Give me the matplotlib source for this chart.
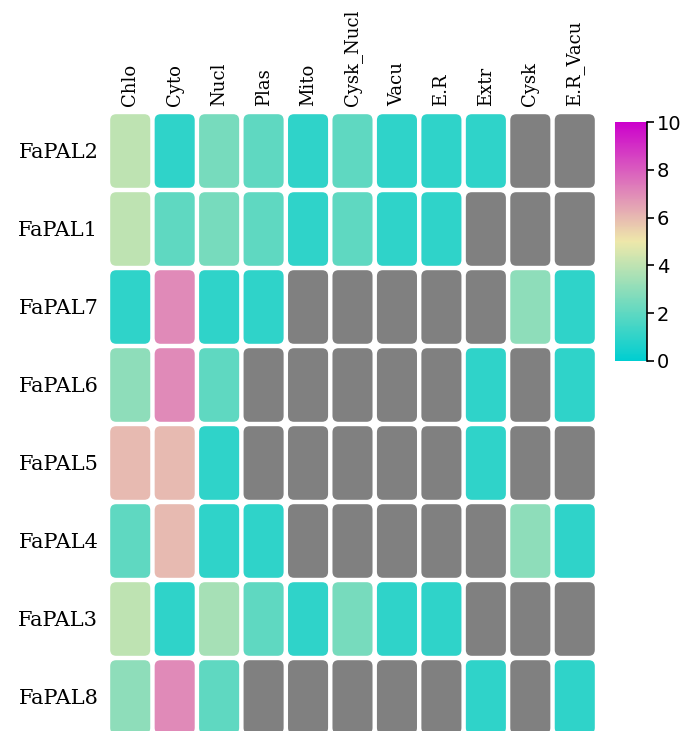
import numpy as np
import matplotlib
matplotlib.use("Agg")
import matplotlib.pyplot as plt
from matplotlib.colors import LinearSegmentedColormap, Normalize
from matplotlib.patches import FancyBboxPatch
from matplotlib.cm import ScalarMappable

nan = np.nan
locations = ["Chlo", "Cyto", "Nucl", "Plas", "Mito", "Cysk_Nucl", "Vacu", "E.R", "Extr", "Cysk", "E.R_Vacu"]
genes = ["FaPAL2", "FaPAL1", "FaPAL7", "FaPAL6", "FaPAL5", "FaPAL4", "FaPAL3", "FaPAL8"]

FaPAL2 = [4, 1, 2.5, 2, 1, 2, 1, 1, 1, nan, nan]
FaPAL1 = [4, 2, 2.5, 2, 1, 2, 1, 1, nan, nan, nan]
FaPAL7 = [1, 7, 1, 1, nan, nan, nan, nan, nan, 3, 1]
FaPAL6 = [3, 7, 2, nan, nan, nan, nan, nan, 1, nan, 1]
FaPAL5 = [6, 6, 1, nan, nan, nan, nan, nan, 1, nan, nan]
FaPAL4 = [2, 6, 1, 1, nan, nan, nan, nan, nan, 3, 1]
FaPAL3 = [4, 1, 3.5, 2, 1, 2.5, 1, 1, nan, nan, nan]
FaPAL8 = [3, 7, 2, nan, nan, nan, nan, nan, 1, nan, 1]
values = np.array([FaPAL2, FaPAL1, FaPAL7, FaPAL6, FaPAL5, FaPAL4, FaPAL3, FaPAL8], dtype=float)

cmap = LinearSegmentedColormap.from_list("c", [(0, "#00CED1"), (0.5, "#EEE8AA"), (1, "#CC00CC")])
norm = Normalize(0, 10)
missing = "#808080"

W, H = 681, 731
fig = plt.figure(figsize=(W / 100, H / 100), dpi=100)
ax = fig.add_axes([108 / W, -5 / H, 489 / W, 624 / H])
nr, nc = values.shape
ax.set_xlim(0, nc)
ax.set_ylim(nr, 0)
pxx = 489 / nc
pxy = 624 / nr
gx, gy = 2.2 / pxx, 2.2 / pxy
rad = 6 / pxx
for i in range(nr):
    for j in range(nc):
        v = values[i, j]
        col = missing if np.isnan(v) else cmap(norm(v))
        p = FancyBboxPatch((j + gx, i + gy), 1 - 2 * gx, 1 - 2 * gy,
                           boxstyle=f"round,pad=0,rounding_size={rad}",
                           mutation_aspect=pxx / pxy, fc=col, ec="none")
        ax.add_patch(p)
for s in ax.spines.values():
    s.set_visible(False)
ax.xaxis.tick_top()
ax.set_xticks(np.arange(nc) + 0.5)
ax.set_xticklabels(locations, rotation=90, family="DejaVu Serif", fontsize=13)
ax.set_yticks(np.arange(nr) + 0.5)
ax.set_yticklabels(genes, family="DejaVu Serif", fontsize=15)
ax.tick_params(length=0, pad=4)
ax.tick_params(axis="y", pad=7)

cax = fig.add_axes([615 / W, (H - 361) / H, 32 / W, 239 / H])
cb = fig.colorbar(ScalarMappable(norm=norm, cmap=cmap), cax=cax, ticks=[0, 2, 4, 6, 8, 10])
cb.outline.set_visible(False)
cax.plot([1, 1], [0, 1], transform=cax.transAxes, color="black", lw=1.2, clip_on=False)
cax.tick_params(length=5, width=1.2, labelsize=14, pad=2)

fig.savefig("out.png", dpi=100)
